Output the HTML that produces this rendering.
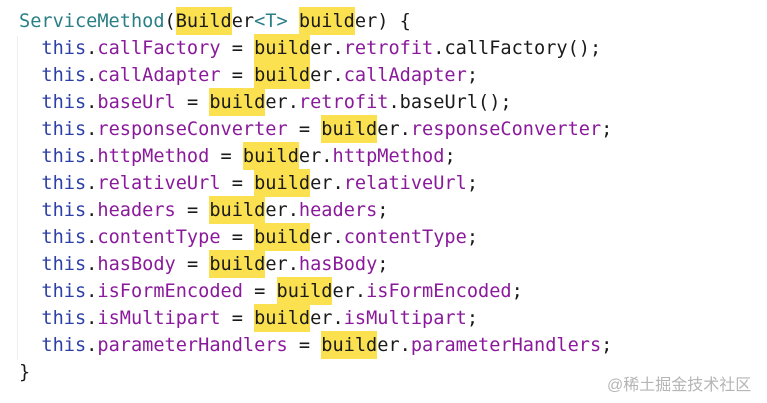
<!DOCTYPE html>
<html><head><meta charset="utf-8"><style>
body{margin:0;background:#fff;width:767px;height:403px;overflow:hidden;position:relative}
pre{position:absolute;left:19px;top:8px;margin:0;font-family:"DejaVu Sans Mono","Liberation Mono",monospace;font-size:18.6px;line-height:27px;color:#1a1a1a}
.h{background:#fbe14f;padding:4px 0 3px}
.t{color:#2a7f86}
.k{color:#2c3fa6}
.f{color:#8a1a9b}
.guide{position:absolute;left:17px;top:36px;width:1px;height:324px;background:#eee}
.wm{position:absolute;left:607px;top:371px;font-family:"Liberation Sans","Noto Sans CJK SC",sans-serif;font-size:16px;color:#b5b5b5}
</style></head><body>
<div class="guide"></div>
<pre><span class="t">ServiceMethod</span>(<span class="h">Build</span>er<span class="t">&lt;T&gt;</span> <span class="h">build</span>er) {
  <span class="k">this</span>.<span class="f">callFactory</span> = <span class="h">build</span>er.<span class="f">retrofit</span>.callFactory();
  <span class="k">this</span>.<span class="f">callAdapter</span> = <span class="h">build</span>er.<span class="f">callAdapter</span>;
  <span class="k">this</span>.<span class="f">baseUrl</span> = <span class="h">build</span>er.<span class="f">retrofit</span>.baseUrl();
  <span class="k">this</span>.<span class="f">responseConverter</span> = <span class="h">build</span>er.<span class="f">responseConverter</span>;
  <span class="k">this</span>.<span class="f">httpMethod</span> = <span class="h">build</span>er.<span class="f">httpMethod</span>;
  <span class="k">this</span>.<span class="f">relativeUrl</span> = <span class="h">build</span>er.<span class="f">relativeUrl</span>;
  <span class="k">this</span>.<span class="f">headers</span> = <span class="h">build</span>er.<span class="f">headers</span>;
  <span class="k">this</span>.<span class="f">contentType</span> = <span class="h">build</span>er.<span class="f">contentType</span>;
  <span class="k">this</span>.<span class="f">hasBody</span> = <span class="h">build</span>er.<span class="f">hasBody</span>;
  <span class="k">this</span>.<span class="f">isFormEncoded</span> = <span class="h">build</span>er.<span class="f">isFormEncoded</span>;
  <span class="k">this</span>.<span class="f">isMultipart</span> = <span class="h">build</span>er.<span class="f">isMultipart</span>;
  <span class="k">this</span>.<span class="f">parameterHandlers</span> = <span class="h">build</span>er.<span class="f">parameterHandlers</span>;
}</pre>
<div class="wm">@稀土掘金技术社区</div>
</body></html>
